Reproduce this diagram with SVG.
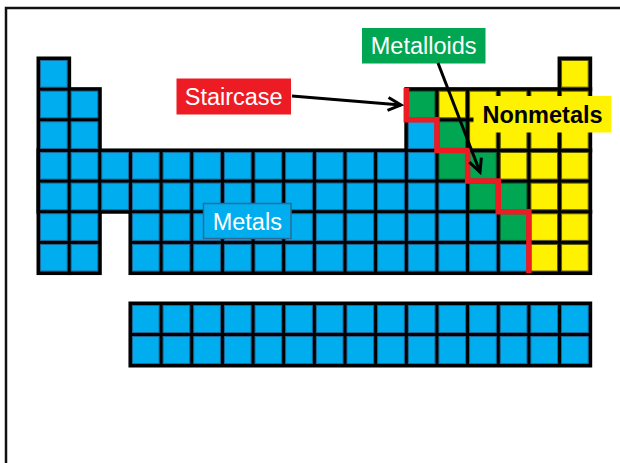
<svg xmlns="http://www.w3.org/2000/svg" width="620" height="463" viewBox="0 0 620 463">
<style>
.b{fill:#00AEEF;stroke:#1C6A9A;stroke-width:1}
.y{fill:#FFF200;stroke:#5E5A00;stroke-width:1}
.g{fill:#00A651;stroke:#0A5A33;stroke-width:1}
.bk{fill:#000}
.lbl{font-family:"Liberation Sans",Arial,sans-serif;font-size:23.5px;text-anchor:middle}
.arrow{fill:none;stroke:#000;stroke-width:3;marker-end:url(#ah)}
</style>
<defs>
<rect id="c" width="26.65" height="26.65"/>
<rect id="l" width="26.65" height="27"/>
<marker id="ah" markerUnits="userSpaceOnUse" orient="auto" overflow="visible" refX="0" refY="0" markerWidth="1" markerHeight="1">
<path d="M-13,-6.5 L0,0 L-13,6.5" fill="none" stroke="#000" stroke-width="3"/>
</marker>
</defs>
<rect width="620" height="463" fill="#fff"/>
<path d="M6,463 V8 H620" fill="none" stroke="#111" stroke-width="2.5"/>

<g id="table">
<g id="backing">
<rect class="bk" x="36.5" y="56.5" width="34.65" height="218.55"/>
<rect class="bk" x="67.15" y="87.15" width="34.65" height="187.9"/>
<rect class="bk" x="36.5" y="148.45" width="555.7" height="65.3"/>
<rect class="bk" x="128.45" y="209.75" width="463.75" height="65.3"/>
<rect class="bk" x="404.3" y="87.15" width="187.9" height="65.3"/>
<rect class="bk" x="557.55" y="56.5" width="34.65" height="34.65"/>
<rect class="bk" x="128.45" y="301.5" width="463.75" height="66"/>
</g>
<g transform="translate(0 60.5)">
<use href="#c" class="b" x="40.5"/><use href="#c" class="y" x="561.55"/>
</g>
<g transform="translate(0 91.15)">
<use href="#c" class="b" x="40.5"/><use href="#c" class="b" x="71.15"/>
<use href="#c" class="g" x="408.3"/><use href="#c" class="y" x="438.95"/><use href="#c" class="y" x="469.6"/><use href="#c" class="y" x="500.25"/><use href="#c" class="y" x="530.9"/><use href="#c" class="y" x="561.55"/>
</g>
<g transform="translate(0 121.8)">
<use href="#c" class="b" x="40.5"/><use href="#c" class="b" x="71.15"/>
<use href="#c" class="b" x="408.3"/><use href="#c" class="g" x="438.95"/><use href="#c" class="y" x="469.6"/><use href="#c" class="y" x="500.25"/><use href="#c" class="y" x="530.9"/><use href="#c" class="y" x="561.55"/>
</g>
<g transform="translate(0 152.45)">
<use href="#c" class="b" x="40.5"/><use href="#c" class="b" x="71.15"/><use href="#c" class="b" x="101.8"/><use href="#c" class="b" x="132.45"/><use href="#c" class="b" x="163.1"/><use href="#c" class="b" x="193.75"/><use href="#c" class="b" x="224.4"/><use href="#c" class="b" x="255.05"/><use href="#c" class="b" x="285.7"/><use href="#c" class="b" x="316.35"/><use href="#c" class="b" x="347"/><use href="#c" class="b" x="377.65"/><use href="#c" class="b" x="408.3"/>
<use href="#c" class="g" x="438.95"/><use href="#c" class="g" x="469.6"/><use href="#c" class="y" x="500.25"/><use href="#c" class="y" x="530.9"/><use href="#c" class="y" x="561.55"/>
</g>
<g transform="translate(0 183.1)">
<use href="#c" class="b" x="40.5"/><use href="#c" class="b" x="71.15"/><use href="#c" class="b" x="101.8"/><use href="#c" class="b" x="132.45"/><use href="#c" class="b" x="163.1"/><use href="#c" class="b" x="193.75"/><use href="#c" class="b" x="224.4"/><use href="#c" class="b" x="255.05"/><use href="#c" class="b" x="285.7"/><use href="#c" class="b" x="316.35"/><use href="#c" class="b" x="347"/><use href="#c" class="b" x="377.65"/><use href="#c" class="b" x="408.3"/><use href="#c" class="b" x="438.95"/>
<use href="#c" class="g" x="469.6"/><use href="#c" class="g" x="500.25"/><use href="#c" class="y" x="530.9"/><use href="#c" class="y" x="561.55"/>
</g>
<g transform="translate(0 213.75)">
<use href="#c" class="b" x="40.5"/><use href="#c" class="b" x="71.15"/><use href="#c" class="b" x="132.45"/><use href="#c" class="b" x="163.1"/><use href="#c" class="b" x="193.75"/><use href="#c" class="b" x="224.4"/><use href="#c" class="b" x="255.05"/><use href="#c" class="b" x="285.7"/><use href="#c" class="b" x="316.35"/><use href="#c" class="b" x="347"/><use href="#c" class="b" x="377.65"/><use href="#c" class="b" x="408.3"/><use href="#c" class="b" x="438.95"/><use href="#c" class="b" x="469.6"/>
<use href="#c" class="g" x="500.25"/><use href="#c" class="y" x="530.9"/><use href="#c" class="y" x="561.55"/>
</g>
<g transform="translate(0 244.4)">
<use href="#c" class="b" x="40.5"/><use href="#c" class="b" x="71.15"/><use href="#c" class="b" x="132.45"/><use href="#c" class="b" x="163.1"/><use href="#c" class="b" x="193.75"/><use href="#c" class="b" x="224.4"/><use href="#c" class="b" x="255.05"/><use href="#c" class="b" x="285.7"/><use href="#c" class="b" x="316.35"/><use href="#c" class="b" x="347"/><use href="#c" class="b" x="377.65"/><use href="#c" class="b" x="408.3"/><use href="#c" class="b" x="438.95"/><use href="#c" class="b" x="469.6"/><use href="#c" class="b" x="500.25"/>
<use href="#c" class="y" x="530.9"/><use href="#c" class="y" x="561.55"/>
</g>
</g>

<g id="f-block">
<g transform="translate(0 305.5)">
<use href="#l" class="b" x="132.45"/><use href="#l" class="b" x="163.1"/><use href="#l" class="b" x="193.75"/><use href="#l" class="b" x="224.4"/><use href="#l" class="b" x="255.05"/><use href="#l" class="b" x="285.7"/><use href="#l" class="b" x="316.35"/><use href="#l" class="b" x="347"/><use href="#l" class="b" x="377.65"/><use href="#l" class="b" x="408.3"/><use href="#l" class="b" x="438.95"/><use href="#l" class="b" x="469.6"/><use href="#l" class="b" x="500.25"/><use href="#l" class="b" x="530.9"/><use href="#l" class="b" x="561.55"/>
</g>
<g transform="translate(0 336.5)">
<use href="#l" class="b" x="132.45"/><use href="#l" class="b" x="163.1"/><use href="#l" class="b" x="193.75"/><use href="#l" class="b" x="224.4"/><use href="#l" class="b" x="255.05"/><use href="#l" class="b" x="285.7"/><use href="#l" class="b" x="316.35"/><use href="#l" class="b" x="347"/><use href="#l" class="b" x="377.65"/><use href="#l" class="b" x="408.3"/><use href="#l" class="b" x="438.95"/><use href="#l" class="b" x="469.6"/><use href="#l" class="b" x="500.25"/><use href="#l" class="b" x="530.9"/><use href="#l" class="b" x="561.55"/>
</g>
</g>

<g id="staircase-line">
<path d="M406.3,88 V119.8 H436.95 V150.45 H467.6 V181.1 H498.25 V211.75 H528.9 V273" fill="none" stroke="#ED1C24" stroke-width="5.5"/>
</g>

<g id="staircase-label">
<rect x="176.5" y="78.5" width="114.5" height="36" fill="#ED1C24"/>
<text class="lbl" x="233.7" y="104.5" fill="#fff">Staircase</text>
</g>
<g id="metalloids-label">
<rect x="362" y="28" width="123.5" height="35.5" fill="#00A651"/>
<text class="lbl" x="423.7" y="53.5" fill="#fff">Metalloids</text>
</g>
<g id="nonmetals-label">
<rect x="473.5" y="96" width="138" height="36.5" fill="#FFF200"/>
<text class="lbl" x="542.5" y="122.5" fill="#000" font-weight="bold">Nonmetals</text>
</g>
<g id="metals-label">
<rect x="203.5" y="203.5" width="87.5" height="35" fill="#00AEEF" stroke="#2C6A99" stroke-width="1.5"/>
<text class="lbl" x="247.3" y="229.5" fill="#fff">Metals</text>
</g>

<g id="connectors">
<line class="arrow" x1="292" y1="96" x2="401" y2="105"/>
<line class="arrow" x1="438" y1="63" x2="480" y2="172"/>
</g>
</svg>
